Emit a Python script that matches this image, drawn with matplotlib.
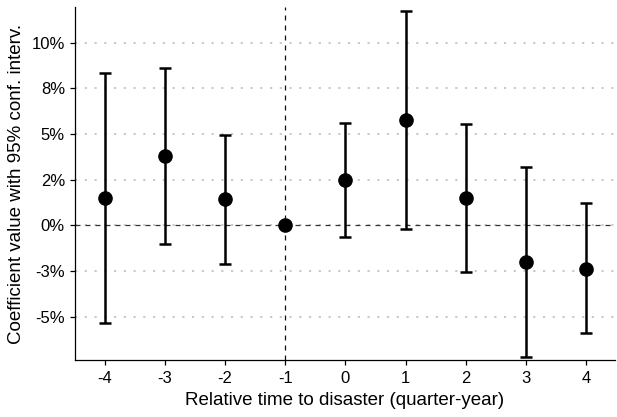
import numpy as np
import matplotlib
matplotlib.use("Agg")
import matplotlib.pyplot as plt
from matplotlib.ticker import FixedLocator

# Event-study coefficients (fractions) and 95% CI bounds
periods = [-4, -3, -2, -1, 0, 1, 2, 3, 4]
coef = [0.0148, 0.0378, 0.0142, 0.0, 0.0248, 0.0578, 0.0149, -0.0201, -0.0237]
ci_low = [-0.0535, -0.0101, -0.0212, 0.0, -0.0064, -0.0020, -0.0257, -0.0719, -0.0591]
ci_high = [0.0835, 0.0861, 0.0494, 0.0, 0.0560, 0.1175, 0.0556, 0.0319, 0.0120]

y_ticks = [-0.05, -0.025, 0.0, 0.025, 0.05, 0.075, 0.10]
y_labels = ["-5%", "-3%", "0%", "2%", "5%", "8%", "10%"]

plt.rcParams["font.family"] = ["Liberation Sans", "DejaVu Sans"]

fig = plt.figure(figsize=(6.17, 4.17), dpi=100)
ax = fig.add_axes([0.121, 0.137, 0.875, 0.846])

x = np.array(periods)
c = np.array(coef)
lo = np.array(ci_low)
hi = np.array(ci_high)

for yt in y_ticks:
    ax.axhline(yt, color="#c4c4c4", lw=1.3, ls=(0, (1.2, 4.2)), zorder=0)

ax.axhline(0, color="#333333", lw=0.9, ls=(0, (4, 4)), zorder=1)
ax.axvline(-1, color="#111111", lw=0.9, ls=(0, (4, 4)), zorder=1)

has_ci = hi - lo > 0
ax.errorbar(x[has_ci], c[has_ci], yerr=[c[has_ci] - lo[has_ci], hi[has_ci] - c[has_ci]],
            fmt="none", ecolor="black", elinewidth=1.8, capsize=4.4, capthick=1.8, zorder=2)
ax.plot(x, c, "o", color="black", ms=9.5, zorder=3)

ax.set_xlim(-4.5, 4.47)
ax.set_ylim(-0.0736, 0.1195)
ax.xaxis.set_major_locator(FixedLocator(periods))
ax.set_xticklabels([str(p) for p in periods])
ax.set_yticks(y_ticks)
ax.set_yticklabels(y_labels)

for side in ["top", "right"]:
    ax.spines[side].set_visible(False)
for side in ["left", "bottom"]:
    ax.spines[side].set_linewidth(0.9)

ax.tick_params(axis="both", length=3.5, width=0.9, labelsize=12, colors="black")
ax.tick_params(axis="x", pad=4.5)
ax.set_xlabel("Relative time to disaster (quarter-year)", fontsize=13.5, labelpad=4)
ax.set_ylabel("Coefficient value with 95% conf. interv.", fontsize=13.5, labelpad=5)

fig.savefig("out.png", dpi=100)
